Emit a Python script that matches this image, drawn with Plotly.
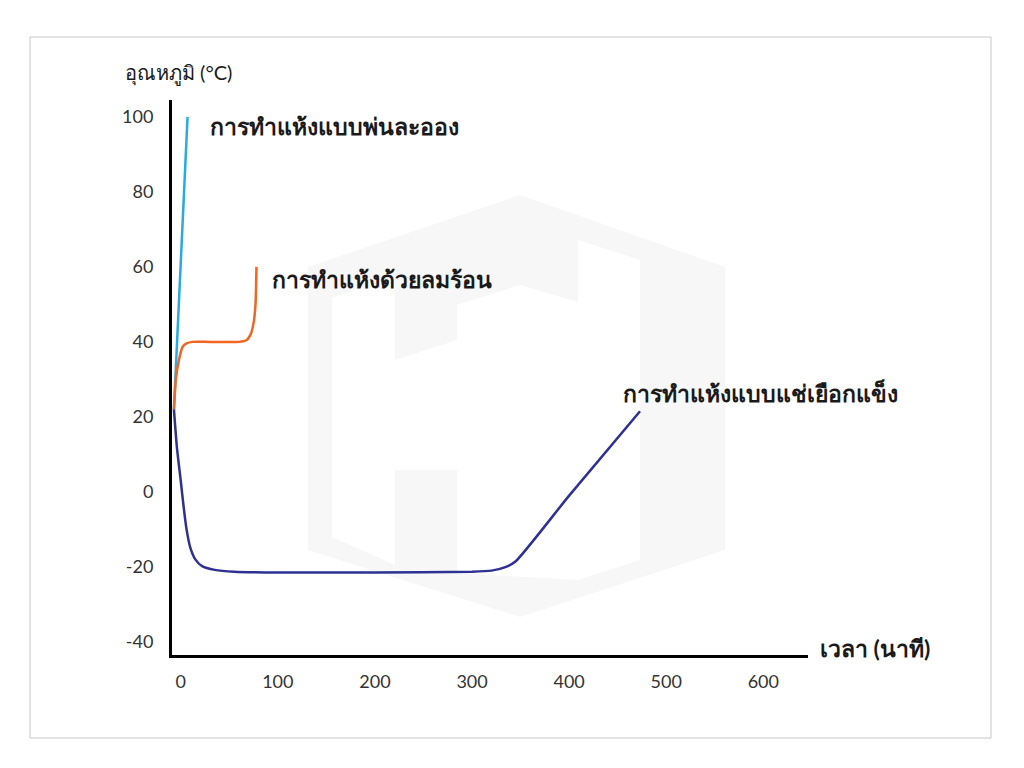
import plotly.graph_objects as go

# ---- data ----
spray_x = [-7, 0, 7]
spray_y = [22, 60, 100]

hotair_x = [-7, -5, -2, 2, 6, 12, 30, 60, 68, 72, 75, 77, 78]
hotair_y = [22, 30, 35, 38.7, 39.6, 40, 40, 40, 40.5, 42, 45, 50, 60]

freeze_x = [-7, -4, 0, 3, 6, 10, 15, 22, 35, 55, 100, 200, 300, 320, 335, 345, 400, 473]
freeze_y = [22, 12, 3, -4, -10, -15, -18, -19.8, -20.8, -21.3, -21.5, -21.5, -21.3, -21, -20, -18.5, -1, 21.5]

x_ticks = [0, 100, 200, 300, 400, 500, 600]
y_ticks = [-40, -20, 0, 20, 40, 60, 80, 100]
y_ticktext = ["-40", "-20", "0", "20", "40", "60", "80", "100"]

labels = ["การทำแห้งแบบพ่นละออง", "การทำแห้งด้วยลมร้อน", "การทำแห้งแบบแช่เยือกแข็ง"]
x_title = "เวลา (นาที)"
y_title = "อุณหภูมิ (°C)"

# ---- layout geometry (screen pixels; page body has an 8px offset) ----
OFF = 8
W, H = 1024 - OFF * 2, 768 - OFF * 2
L, R, T, B = 172 - OFF, 808 - OFF, 100 - OFF, 655 - OFF


def px(x):
    return (x - OFF - L) / (R - L)


def py(y):
    return (B - (y - OFF)) / (B - T)


def path(points):
    return "M " + " L ".join(f"{px(a):.5f},{py(b):.5f}" for a, b in points) + " Z"


font = "Lato, 'Noto Sans', sans-serif"

fig = go.Figure()
fig.add_trace(go.Scatter(x=spray_x, y=spray_y, mode="lines",
                         line=dict(color="#29abe2", width=2.5), cliponaxis=False))
fig.add_trace(go.Scatter(x=hotair_x, y=hotair_y, mode="lines",
                         line=dict(color="#f26522", width=2.5, shape="spline", smoothing=0.6),
                         cliponaxis=False))
fig.add_trace(go.Scatter(x=freeze_x, y=freeze_y, mode="lines",
                         line=dict(color="#2e3192", width=2.5, shape="spline", smoothing=0.6),
                         cliponaxis=False))

fig.update_layout(
    width=W, height=H,
    margin=dict(l=L, r=W - R, t=T, b=H - B),
    paper_bgcolor="white", plot_bgcolor="rgba(0,0,0,0)",
    showlegend=False,
    font=dict(family=font, color="#333333", size=18),
    xaxis=dict(range=[-9, 646], tickvals=x_ticks, showgrid=False, zeroline=False,
               showline=True, linecolor="black", linewidth=3, ticks="",
               tickfont=dict(size=18, color="#333333"), ticklabelstandoff=8),
    yaxis=dict(range=[-43.5, 104.5], tickvals=y_ticks, ticktext=y_ticktext,
               showgrid=False, zeroline=False,
               showline=True, linecolor="black", linewidth=3, ticks="",
               tickfont=dict(size=18, color="#333333"), ticklabelstandoff=12),
)

# faint watermark (hexagon with H cut-out)
fig.add_shape(type="path", xref="paper", yref="paper", layer="below",
              path=path([(520, 195), (725, 267), (725, 550), (520, 617), (308, 550), (308, 267)]),
              fillcolor="#f7f7f7", line=dict(width=0))
fig.add_shape(type="path", xref="paper", yref="paper", layer="below",
              path=path([(332, 298), (395, 275), (395, 565), (332, 537)]),
              fillcolor="white", line=dict(width=0))
fig.add_shape(type="path", xref="paper", yref="paper", layer="below",
              path=path([(395, 360), (457, 340), (457, 470), (395, 470)]),
              fillcolor="white", line=dict(width=0))
fig.add_shape(type="path", xref="paper", yref="paper", layer="below",
              path=path([(457, 305), (520, 285), (578, 302), (578, 580), (457, 573)]),
              fillcolor="white", line=dict(width=0))
fig.add_shape(type="path", xref="paper", yref="paper", layer="below",
              path=path([(578, 240), (640, 260), (640, 560), (578, 580)]),
              fillcolor="white", line=dict(width=0))

# outer border
fig.add_shape(type="rect", xref="paper", yref="paper",
              x0=px(30), x1=px(991), y0=py(738), y1=py(37),
              line=dict(color="#c8c8c8", width=1), layer="below")

# series labels
label_pos = [(208, 126), (270, 279), (621, 393)]
for text, (lx, ly) in zip(labels, label_pos):
    fig.add_annotation(x=px(lx), y=py(ly), xref="paper", yref="paper",
                       text="<b>" + text + "</b>", showarrow=False,
                       xanchor="left", yanchor="middle",
                       font=dict(size=23, color="#1a1a1a"))

fig.add_annotation(x=px(818), y=py(648), xref="paper", yref="paper",
                   text="<b>" + x_title + "</b>", showarrow=False,
                   xanchor="left", yanchor="middle",
                   font=dict(size=23, color="#1a1a1a"))
fig.add_annotation(x=px(123), y=py(73), xref="paper", yref="paper",
                   text=y_title, showarrow=False,
                   xanchor="left", yanchor="middle",
                   font=dict(size=20, color="#1a1a1a"))

fig.write_html("out.html")
